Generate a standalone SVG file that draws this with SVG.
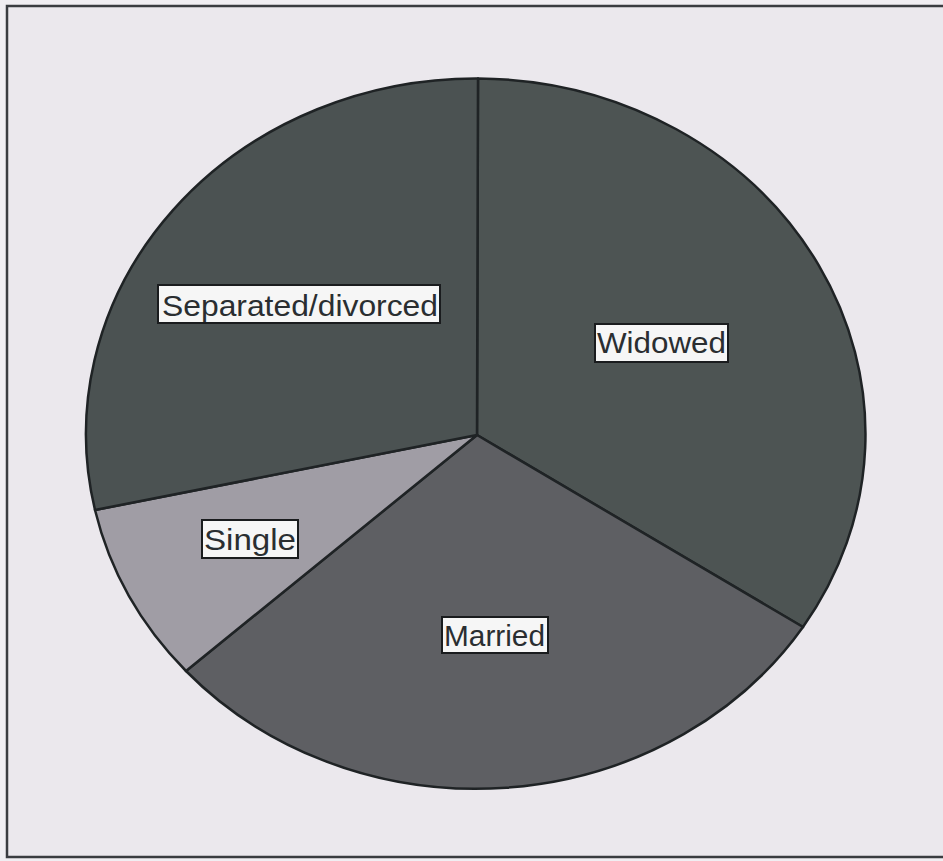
<svg xmlns="http://www.w3.org/2000/svg" width="943" height="861" viewBox="0 0 943 861">
  <style>
    .slice { stroke: #1f2325; stroke-width: 2.5; stroke-linejoin: round; }
    .box { fill: #f6f6f6; stroke: #1a1c1e; stroke-width: 2; }
    .lbl { font-family: "Liberation Sans", Arial, sans-serif; font-size: 30px; fill: #2a2e31; }
  </style>
  <rect x="0" y="0" width="943" height="861" fill="#f0eef2"/>
  <rect x="7" y="6" width="940" height="851" fill="#ebe8ed" stroke="#3a3c40" stroke-width="2.5"/>
  <g id="connectors"></g>
  <g id="slice-widowed">
    <path class="slice" fill="#4d5453" d="M477,435 L478,78.5 A390,355.5 0 0 1 803,627 Z"/>
  </g>
  <g id="slice-married">
    <path class="slice" fill="#5e5f63" d="M477,435 L803,627 A390,355.5 0 0 1 186,671 Z"/>
  </g>
  <g id="slice-single">
    <path class="slice" fill="#a09da5" d="M477,435 L186,671 A390,355.5 0 0 1 95,510 Z"/>
  </g>
  <g id="slice-separated">
    <path class="slice" fill="#4b5252" d="M477,435 L95,510 A390,355.5 0 0 1 478,78.5 Z"/>
  </g>
  <g id="label-separated">
    <rect class="box" x="158" y="285" width="282" height="38"/>
    <text class="lbl" x="162" y="316" textLength="276" lengthAdjust="spacingAndGlyphs">Separated/divorced</text>
  </g>
  <g id="label-widowed">
    <rect class="box" x="595" y="324" width="133" height="38"/>
    <text class="lbl" x="597" y="353" textLength="129" lengthAdjust="spacingAndGlyphs">Widowed</text>
  </g>
  <g id="label-single">
    <rect class="box" x="202" y="520" width="96" height="38"/>
    <text class="lbl" x="204" y="550" textLength="92" lengthAdjust="spacingAndGlyphs">Single</text>
  </g>
  <g id="label-married">
    <rect class="box" x="442" y="617" width="106" height="36"/>
    <text class="lbl" x="444" y="646" textLength="101" lengthAdjust="spacingAndGlyphs">Married</text>
  </g>
</svg>
